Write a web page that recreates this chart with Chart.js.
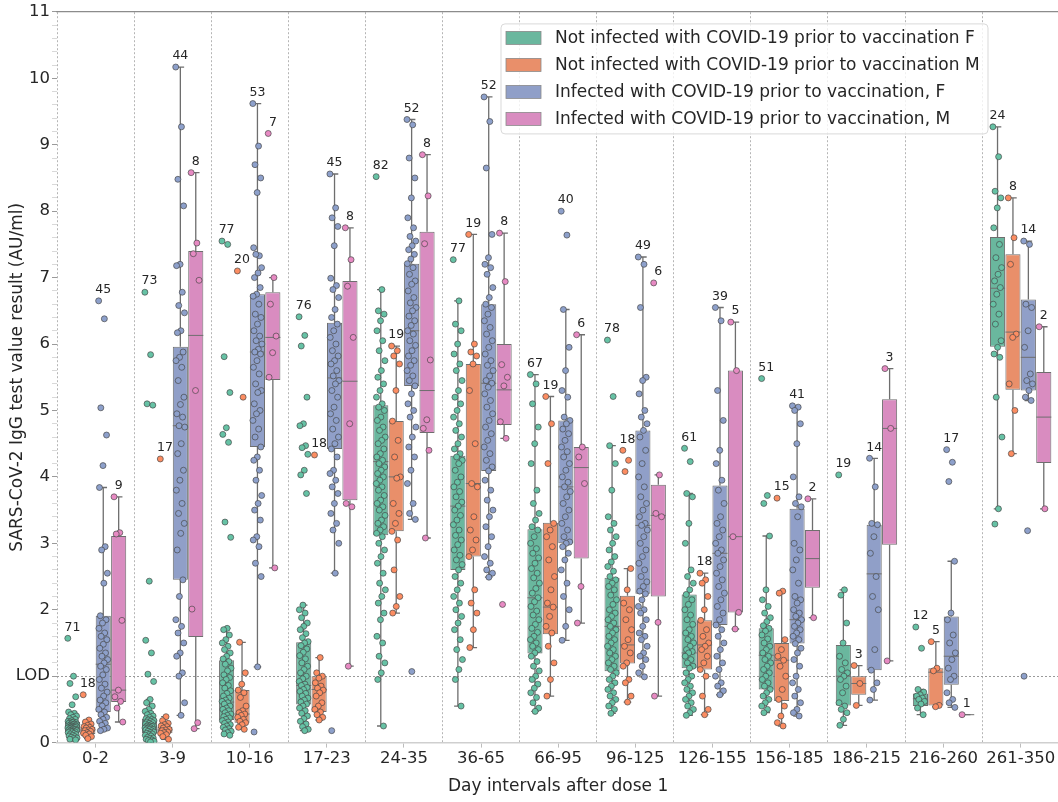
<!DOCTYPE html>
<html>
<head>
<meta charset="utf-8">
<script src="https://cdn.jsdelivr.net/npm/chart.js@4.4.1/dist/chart.umd.min.js"></script>
<style>
html,body{margin:0;padding:0;overflow:hidden;background:#fff;}
#wrap{position:absolute;left:0;top:0;width:1064px;height:802px;}
</style>
</head>
<body>
<div id="wrap"><canvas id="c" width="1064" height="802"></canvas></div>
<script>
// ---------------- DATA ----------------
const groups = ['0-2','3-9','10-16','17-23','24-35','36-65','66-95','96-125','126-155','156-185','186-215','216-260','261-350'];
const seriesNames = [
  'Not infected with COVID-19 prior to vaccination F',
  'Not infected with COVID-19 prior to vaccination M',
  'Infected with COVID-19 prior to vaccination, F',
  'Infected with COVID-19 prior to vaccination, M'
];
const yTickLabels = {1: 'LOD'};

// box statistics per group: [lower whisker, Q1, median, Q3, upper whisker]
const boxNotInfF = [[0.04,0.16,0.24,0.31,0.46],[0.01,0.14,0.24,0.36,0.65],[0.11,0.34,0.61,1.24,1.72],[0.18,0.575,0.86,1.51,2.07],[0.25,3.12,4.23,5.08,6.82],[0.55,2.6,3.56,4.32,6.65],[0.47,1.34,2.18,3.21,5.54],[0.44,1.075,1.75,2.48,4.47],[0.41,1.12,1.35,2.23,3.75],[0.45,0.8,1.315,1.72,3.11],[0.26,0.56,1.0,1.47,2.3],[0.42,0.55,0.66,0.74,0.8],[3.52,5.96,6.84,7.61,9.27]];
const boxNotInfM = [[0.06,0.13,0.19,0.24,0.34],[0.05,0.14,0.19,0.24,0.39],[0.2,0.3,0.43,0.79,1.51],[0.34,0.46,0.8,1.0,1.28],[1.95,3.18,4.0,4.84,5.97],[1.43,2.8,3.9,5.7,7.65],[0.7,1.63,2.04,3.31,5.21],[0.61,1.19,1.47,2.21,2.62],[0.42,1.1,1.47,1.84,2.55],[0.25,0.625,1.24,1.5,2.28],[0.56,0.72,0.89,1.0,1.16],[0.54,0.56,1.06,1.12,1.52],[4.35,5.31,6.18,7.35,8.2]];
const boxInfF = [[0.18,0.46,1.18,1.91,3.84],[0.41,2.45,4.77,5.96,10.17],[1.14,4.45,5.88,6.75,9.62],[2.55,4.42,5.49,6.32,8.56],[3.36,5.37,6.2,7.21,9.38],[2.49,4.09,5.41,6.6,9.72],[1.54,3.0,3.85,4.85,6.52],[0.99,2.24,3.27,4.7,7.31],[0.72,1.77,2.85,3.87,6.55],[0.4,1.49,1.85,3.52,5.07],[0.64,1.09,2.54,3.28,4.28],[0.53,0.87,1.3,1.9,2.73],[5.15,5.3,5.8,6.67,7.55]];
const boxInfM = [[0.31,0.61,0.79,3.11,3.7],[0.21,1.59,6.13,7.4,8.58],[2.63,5.46,6.1,6.78,7.0],[1.15,3.65,5.44,6.95,7.75],[3.08,4.66,5.3,7.69,8.85],[4.58,4.78,5.31,6.0,7.67],[1.8,2.77,4.14,4.45,6.14],[0.7,2.2,3.42,3.88,4.03],[1.71,1.96,3.1,5.6,6.33],[1.88,2.33,2.77,3.2,3.67],[1.23,2.98,4.73,5.17,5.63],[0.42,0.42,0.42,0.42,0.42],[3.52,4.21,4.9,5.58,6.26]];

// sample sizes shown above each box
const nNotInfF = [71,73,77,76,82,77,67,78,61,51,19,12,24];
const nNotInfM = [18,17,20,18,19,19,19,18,18,15,3,5,8];
const nInfF = [45,44,53,45,52,52,40,49,39,41,14,17,14];
const nInfM = [9,8,7,8,8,8,6,6,5,2,3,1,2];

// individual test values (read from the strip points)
const ptsNotInfF = [
 [1.57,1.0,0.89,0.69,0.57,0.46,0.44,0.42,0.40,0.38,0.36,0.35,0.33,0.32,0.31,0.31,0.30,0.30,0.29,0.28,0.28,0.27,0.27,0.26,0.26,0.25,0.25,0.24,0.24,0.24,0.23,0.23,0.23,0.22,0.22,0.21,0.21,0.20,0.20,0.19,0.19,0.18,0.18,0.17,0.17,0.16,0.16,0.15,0.14,0.13,0.12,0.11,0.10,0.09,0.08,0.07,0.06,0.05,0.04],
 [6.78,5.84,5.1,5.08,2.43,1.54,1.35,1.03,0.92,0.65,0.6,0.55,0.5,0.47,0.44,0.42,0.4,0.38,0.36,0.35,0.34,0.33,0.32,0.31,0.3,0.29,0.28,0.27,0.26,0.25,0.25,0.24,0.24,0.23,0.22,0.22,0.21,0.2,0.2,0.19,0.18,0.17,0.16,0.15,0.14,0.13,0.12,0.11,0.1,0.08,0.07,0.06,0.05,0.04,0.03,0.02,0.01],
 [7.55,7.5,5.81,5.27,4.74,4.64,4.52,3.32,3.09,1.72,1.7,1.62,1.55,1.5,1.45,1.4,1.35,1.3,1.26,1.22,1.18,1.12,1.08,1.02,0.98,0.95,0.9,0.86,0.82,0.78,0.74,0.7,0.67,0.64,0.62,0.6,0.58,0.55,0.52,0.5,0.48,0.45,0.43,0.41,0.39,0.37,0.35,0.33,0.31,0.29,0.27,0.25,0.23,0.21,0.19,0.17,0.15,0.13,0.11],
 [6.41,6.13,5.97,5.2,4.8,4.77,4.47,4.44,4.34,4.1,4.03,3.75,2.07,2.0,1.95,1.88,1.8,1.75,1.7,1.64,1.58,1.52,1.5,1.46,1.41,1.36,1.31,1.26,1.2,1.15,1.1,1.05,1.0,0.96,0.92,0.88,0.86,0.83,0.8,0.77,0.74,0.7,0.67,0.64,0.61,0.58,0.55,0.52,0.48,0.44,0.4,0.36,0.32,0.28,0.24,0.2,0.18],
 [8.52,6.82,6.5,6.45,6.35,6.2,6.05,5.9,5.75,5.6,5.5,5.4,5.3,5.2,5.1,5.05,5.0,4.9,4.85,4.75,4.7,4.6,4.55,4.5,4.42,4.35,4.3,4.25,4.2,4.15,4.1,4.05,4.0,3.95,3.9,3.85,3.8,3.72,3.65,3.6,3.55,3.5,3.42,3.35,3.3,3.25,3.2,3.15,3.1,3.0,2.9,2.8,2.7,2.55,2.4,2.3,2.2,2.1,1.95,1.85,1.6,1.5,1.3,1.2,1.05,0.95,0.25],
 [7.27,6.65,6.3,6.2,6.0,5.85,5.7,5.6,5.45,5.3,5.2,5.1,5.0,4.9,4.8,4.7,4.6,4.5,4.42,4.35,4.3,4.25,4.2,4.1,4.0,3.92,3.85,3.78,3.7,3.62,3.56,3.5,3.42,3.35,3.28,3.2,3.12,3.05,2.98,2.9,2.82,2.75,2.68,2.6,2.5,2.4,2.3,2.2,2.1,2.0,1.9,1.8,1.7,1.55,1.4,1.25,1.1,0.95,0.55],
 [5.54,5.4,5.1,4.75,4.5,4.2,3.8,3.6,3.45,3.35,3.25,3.2,3.1,3.0,2.92,2.85,2.78,2.7,2.62,2.55,2.48,2.4,2.32,2.25,2.18,2.12,2.05,1.98,1.92,1.85,1.78,1.72,1.66,1.6,1.55,1.5,1.45,1.4,1.35,1.3,1.22,1.15,1.08,1.0,0.95,0.88,0.82,0.75,0.68,0.6,0.52,0.47],
 [6.06,5.21,4.47,4.2,3.8,3.4,3.3,3.2,3.1,3.0,2.9,2.8,2.72,2.65,2.58,2.5,2.45,2.4,2.35,2.3,2.22,2.15,2.08,2.0,1.95,1.9,1.85,1.8,1.75,1.7,1.65,1.6,1.55,1.5,1.45,1.4,1.35,1.3,1.25,1.2,1.15,1.1,1.05,1.0,0.95,0.9,0.85,0.8,0.75,0.7,0.65,0.6,0.55,0.5,0.44],
 [4.43,4.23,3.75,3.7,3.3,3.0,2.6,2.5,2.4,2.3,2.23,2.15,2.08,2.0,1.92,1.85,1.78,1.7,1.65,1.6,1.55,1.5,1.45,1.4,1.37,1.35,1.3,1.25,1.2,1.15,1.12,1.05,1.0,0.95,0.9,0.85,0.8,0.75,0.7,0.65,0.6,0.55,0.5,0.45,0.41],
 [5.48,3.72,3.6,3.11,2.3,2.15,2.05,1.95,1.88,1.82,1.76,1.72,1.68,1.62,1.56,1.5,1.45,1.4,1.35,1.3,1.25,1.2,1.15,1.1,1.05,1.0,0.95,0.9,0.85,0.8,0.75,0.7,0.65,0.6,0.55,0.5,0.45],
 [4.03,2.3,2.22,1.8,1.5,1.3,1.2,1.1,1.05,1.0,0.95,0.85,0.75,0.6,0.55,0.5,0.45,0.35,0.26],
 [1.74,1.42,0.8,0.76,0.72,0.7,0.67,0.65,0.62,0.58,0.52,0.42],
 [9.27,8.82,8.3,8.2,8.05,7.75,7.5,7.3,7.15,7.05,6.95,6.85,6.75,6.6,6.45,6.3,6.05,5.95,5.85,5.8,5.2,4.6,3.52,3.29]
];
const ptsNotInfM = [
 [0.72,0.34,0.31,0.28,0.26,0.24,0.23,0.22,0.2,0.19,0.18,0.17,0.15,0.14,0.13,0.11,0.09,0.06],
 [4.27,0.39,0.33,0.29,0.27,0.25,0.24,0.22,0.2,0.19,0.18,0.16,0.15,0.14,0.12,0.09,0.05],
 [7.1,5.2,1.51,1.05,0.88,0.79,0.75,0.68,0.55,0.48,0.45,0.43,0.41,0.38,0.35,0.32,0.3,0.27,0.23,0.2],
 [4.33,1.28,1.05,1.0,0.97,0.9,0.85,0.82,0.79,0.75,0.7,0.6,0.55,0.5,0.46,0.42,0.38,0.34],
 [5.97,5.9,5.82,5.7,5.3,4.84,4.55,4.3,4.0,3.98,3.6,3.45,3.3,3.18,3.05,2.6,2.2,2.05,1.95],
 [7.65,6.0,5.88,5.82,5.7,5.3,4.5,3.9,3.85,3.4,3.2,3.05,2.9,2.8,2.3,2.1,1.95,1.7,1.43],
 [5.21,4.8,4.2,3.3,3.2,3.1,2.95,2.75,2.5,2.3,2.1,2.04,1.9,1.75,1.65,1.45,1.2,0.95,0.7],
 [4.4,4.25,4.08,2.62,2.3,2.1,2.0,1.85,1.7,1.55,1.45,1.35,1.2,1.15,0.95,0.9,0.7,0.61],
 [2.55,2.45,2.4,2.2,2.0,1.84,1.7,1.6,1.5,1.45,1.4,1.3,1.2,1.1,1.0,0.7,0.5,0.42],
 [3.68,2.28,2.25,1.55,1.4,1.3,1.24,1.15,1.0,0.8,0.65,0.55,0.4,0.3,0.25],
 [1.16,0.89,0.56],
 [1.52,1.12,1.08,0.56,0.54],
 [8.2,7.6,7.2,6.15,6.1,5.4,5.0,4.35]
];
const ptsInfF = [
 [6.65,6.38,5.04,4.63,4.17,3.84,2.95,2.9,2.55,2.4,1.91,1.85,1.8,1.72,1.65,1.6,1.55,1.48,1.42,1.35,1.3,1.25,1.2,1.15,1.1,1.02,0.95,0.88,0.82,0.76,0.7,0.64,0.6,0.55,0.5,0.46,0.42,0.38,0.35,0.32,0.29,0.26,0.22,0.2,0.18],
 [10.17,9.27,8.48,8.08,7.2,7.18,6.78,6.58,6.47,6.2,6.17,5.88,5.8,5.75,5.65,5.45,5.2,5.09,4.95,4.9,4.77,4.75,4.5,4.35,4.1,3.95,3.8,3.6,3.45,3.3,3.15,2.9,2.45,2.2,1.85,1.75,1.65,1.5,1.35,1.3,1.05,1.0,0.6,0.41],
 [9.62,8.98,8.7,8.5,8.28,7.45,7.33,7.35,7.15,7.07,7.0,6.85,6.75,6.72,6.6,6.45,6.4,6.3,6.2,6.12,6.05,6.0,5.92,5.88,5.85,5.75,5.65,5.55,5.4,5.3,5.27,5.1,5.0,4.95,4.85,4.72,4.6,4.45,4.3,4.25,4.1,3.95,3.72,3.6,3.5,3.35,3.1,3.05,2.95,2.7,2.5,1.14,0.16],
 [8.56,8.05,7.9,7.77,7.48,6.99,6.88,6.82,6.7,6.52,6.4,6.3,6.2,6.1,6.0,5.9,5.82,5.75,5.7,5.6,5.52,5.45,5.4,5.3,5.2,5.05,4.95,4.85,4.72,4.6,4.5,4.42,4.3,4.1,4.05,3.95,3.85,3.75,3.6,3.45,3.3,3.2,3.0,2.55,0.18],
 [9.38,9.3,8.8,8.5,8.2,7.9,7.75,7.62,7.55,7.48,7.42,7.35,7.28,7.21,7.15,7.05,6.95,6.9,6.8,6.7,6.62,6.55,6.5,6.42,6.35,6.28,6.2,6.15,6.05,5.98,5.9,5.82,5.75,5.68,5.6,5.52,5.45,5.37,5.25,5.1,5.0,4.9,4.75,4.6,4.45,4.3,4.1,3.9,3.6,3.45,3.36,1.07],
 [9.72,9.35,8.65,7.65,7.3,7.2,7.15,7.05,6.85,6.7,6.6,6.55,6.45,6.35,6.25,6.15,6.05,5.95,5.85,5.75,5.68,5.6,5.52,5.45,5.41,5.35,5.25,5.15,5.05,4.95,4.85,4.75,4.65,4.55,4.45,4.35,4.25,4.15,4.09,3.95,3.8,3.65,3.5,3.4,3.25,3.1,2.95,2.8,2.7,2.6,2.55,2.49],
 [8.0,7.64,6.52,5.95,5.6,5.3,5.2,4.9,4.85,4.8,4.72,4.65,4.55,4.45,4.38,4.3,4.2,4.1,4.0,3.92,3.85,3.78,3.7,3.6,3.5,3.4,3.3,3.2,3.1,3.02,3.0,2.95,2.85,2.75,2.6,2.4,2.2,2.0,1.75,1.54],
 [7.31,7.2,6.55,5.5,5.45,5.25,5.0,4.9,4.8,4.7,4.6,4.4,4.2,4.0,3.85,3.7,3.6,3.5,3.4,3.3,3.27,3.2,3.1,3.0,2.9,2.8,2.7,2.6,2.5,2.42,2.35,2.28,2.24,2.15,2.05,2.0,1.95,1.85,1.75,1.65,1.6,1.55,1.45,1.35,1.3,1.25,1.15,1.05,0.99],
 [6.55,6.35,5.3,4.85,4.4,4.2,3.95,3.8,3.6,3.4,3.3,3.2,3.1,3.0,2.9,2.85,2.75,2.65,2.55,2.45,2.35,2.25,2.15,2.05,1.95,1.85,1.77,1.7,1.6,1.5,1.4,1.3,1.2,1.1,1.0,0.9,0.85,0.78,0.72],
 [5.07,5.05,5.0,4.8,4.5,4.0,3.7,3.6,3.55,3.4,3.0,2.9,2.75,2.6,2.4,2.2,2.15,2.1,2.0,1.95,1.9,1.85,1.8,1.75,1.7,1.65,1.6,1.55,1.49,1.42,1.35,1.25,1.15,1.0,0.9,0.8,0.7,0.6,0.5,0.45,0.4],
 [4.28,3.85,3.3,3.28,3.1,2.85,2.5,2.2,2.0,1.4,1.09,0.9,0.8,0.64],
 [4.41,4.22,3.93,2.73,1.95,1.85,1.62,1.5,1.35,1.25,1.12,1.0,0.95,0.75,0.65,0.6,0.53],
 [7.55,7.5,6.6,6.55,6.2,5.95,5.55,5.45,5.4,5.3,5.2,5.15,3.19,1.0]
];
const ptsInfM = [
 [3.7,3.16,3.14,1.84,0.79,0.69,0.62,0.52,0.31],
 [8.58,7.52,7.36,6.96,5.3,2.01,0.3,0.21],
 [9.17,7.0,6.6,6.12,5.87,5.5,2.63],
 [7.75,7.27,6.87,6.1,4.8,3.6,3.55,1.15],
 [8.85,8.23,7.51,5.76,4.86,4.73,4.4,3.08],
 [7.67,6.94,5.69,5.5,5.37,4.83,4.58,2.08],
 [6.14,4.45,4.3,3.9,2.35,1.8],
 [6.92,4.03,3.45,3.4,1.81,0.7],
 [6.33,5.6,3.1,1.96,1.71],
 [3.67,1.88],
 [5.63,4.73,1.23],
 [0.42],
 [6.26,3.52]
];

// ---------------- STYLE ----------------
const boxColors = ['#6ab79e', '#e98f6a', '#909fc8', '#d98cc0'];
const pointColors = ['#66c2a5', '#fc8d62', '#8da0cb', '#e78ac3'];
const edgeGray = '#6e6e6e';
const FONT = 'DejaVu Sans';

const allBoxes = [boxNotInfF, boxNotInfM, boxInfF, boxInfM];
const allPts = [ptsNotInfF, ptsNotInfM, ptsInfF, ptsInfM];
const allN = [nNotInfF, nNotInfM, nInfF, nInfM];

const dodge = k => (k - 1.5) * 0.2;             // box offset within a group (group units)
const jitter = j => (((j * 0.6180339887) % 1) - 0.5) * 0.12;

const datasets = [];
for (let k = 0; k < 4; k++) {
  datasets.push({
    type: 'bar',
    label: seriesNames[k],
    data: allBoxes[k].map((b, i) => ({x: i + 0.5, y: [b[1], b[3]]})),
    backgroundColor: boxColors[k],
    borderColor: edgeGray,
    borderWidth: 1,
    borderSkipped: false,
    xAxisID: 'x', yAxisID: 'y',
    barPercentage: 0.98,
    categoryPercentage: 0.8,
    order: 2
  });
}
for (let k = 0; k < 4; k++) {
  const pts = [];
  allPts[k].forEach((vals, i) => {
    vals.forEach((v, j) => pts.push({x: i + 0.5 + dodge(k) + jitter(j), y: v}));
  });
  datasets.push({
    type: 'scatter',
    label: 'pts' + k,
    data: pts,
    backgroundColor: pointColors[k],
    borderColor: 'rgba(70,70,70,0.85)',
    borderWidth: 0.8,
    pointRadius: 3,
    xAxisID: 'x', yAxisID: 'y',
    order: 1
  });
}

// whiskers, caps, medians, counts, legend
const boxPlotPlugin = {
  id: 'boxparts',
  afterDatasetDraw(chart, args) {
    const meta = args.meta;
    if (meta.type !== 'bar') return;
    const k = args.index;
    const ys = chart.scales.y;
    const ctx = chart.ctx;
    ctx.save();
    ctx.strokeStyle = edgeGray;
    meta.data.forEach((bar, i) => {
      const [lo, q1, med, q3, hi] = allBoxes[k][i];
      const p = bar.getProps(['x', 'width'], true);
      const x = p.x, w = p.width;
      const yLo = ys.getPixelForValue(lo), yQ1 = ys.getPixelForValue(q1);
      const yMed = ys.getPixelForValue(med), yQ3 = ys.getPixelForValue(q3), yHi = ys.getPixelForValue(hi);
      ctx.lineWidth = 1.3;
      ctx.beginPath();
      ctx.moveTo(x, yQ1); ctx.lineTo(x, yLo);
      ctx.moveTo(x, yQ3); ctx.lineTo(x, yHi);
      ctx.moveTo(x - w / 4, yLo); ctx.lineTo(x + w / 4, yLo);
      ctx.moveTo(x - w / 4, yHi); ctx.lineTo(x + w / 4, yHi);
      ctx.stroke();
      ctx.lineWidth = 1;
      ctx.beginPath();
      ctx.moveTo(x - w / 2, yMed); ctx.lineTo(x + w / 2, yMed);
      ctx.stroke();
    });
    ctx.restore();
  },
  afterDatasetsDraw(chart) {
    const ctx = chart.ctx;
    const xs = chart.scales.x, ys = chart.scales.y;
    ctx.save();
    ctx.font = '12.5px "' + FONT + '"';
    ctx.fillStyle = '#262626';
    ctx.textAlign = 'center';
    ctx.textBaseline = 'middle';
    for (let k = 0; k < 4; k++) {
      groups.forEach((g, i) => {
        const top = Math.max(allBoxes[k][i][4], ...allPts[k][i]);
        const x = xs.getPixelForValue(i + 0.5 + dodge(k));
        const y = ys.getPixelForValue(top) - 11;
        ctx.fillText(String(allN[k][i]), x, y);
      });
    }
    ctx.restore();
  },
  afterDraw(chart) {
    const ctx = chart.ctx;
    const ca = chart.chartArea;
    const bx = ca.left + 444, by = ca.top + 12, bw = 487, bh = 110;
    ctx.save();
    ctx.beginPath();
    if (ctx.roundRect) ctx.roundRect(bx, by, bw, bh, 4); else ctx.rect(bx, by, bw, bh);
    ctx.fillStyle = 'rgba(255,255,255,0.8)';
    ctx.fill();
    ctx.strokeStyle = '#d9d9d9';
    ctx.lineWidth = 1;
    ctx.stroke();
    ctx.font = '17px "' + FONT + '"';
    ctx.textBaseline = 'middle';
    ctx.textAlign = 'left';
    seriesNames.forEach((name, k) => {
      const cy = by + 14 + k * 27;
      ctx.fillStyle = boxColors[k];
      ctx.fillRect(bx + 5, cy - 6.5, 35, 13);
      ctx.strokeStyle = '#8a8a8a';
      ctx.lineWidth = 0.8;
      ctx.strokeRect(bx + 5, cy - 6.5, 35, 13);
      ctx.fillStyle = '#262626';
      ctx.fillText(name, bx + 54, cy + 1);
    });
    ctx.restore();
  }
};

const isInt = v => Math.abs(v - Math.round(v)) < 1e-6;

new Chart(document.getElementById('c'), {
  data: { datasets },
  options: {
    responsive: false,
    animation: false,
    devicePixelRatio: 1,
    layout: { padding: { top: 10, right: 3, left: 0, bottom: 0 } },
    plugins: { legend: { display: false }, tooltip: { enabled: false } },
    scales: {
      x: {
        type: 'linear',
        position: 'bottom',
        min: 0, max: 13,
        offset: false,
        afterBuildTicks: s => { s.ticks = groups.map((g, i) => ({ value: i + 0.5 })); },
        grid: { display: true, drawOnChartArea: false, offset: false, tickLength: 5, color: '#bdbdbd', tickColor: '#bdbdbd' },
        border: { display: true, color: '#cfcfcf', width: 1.5 },
        ticks: { font: { family: FONT, size: 16.5 }, color: '#262626', padding: 1, maxRotation: 0, autoSkip: false,
                 callback: (v, i) => groups[i] },
        title: { display: true, text: 'Day intervals after dose 1', font: { family: FONT, size: 17 }, color: '#262626', padding: { top: 0, bottom: 5 } },
        afterFit: s => { s.height = 59.4; }
      },
      x2: {
        type: 'linear',
        position: 'top',
        min: 0, max: 13,
        offset: false,
        ticks: { display: false, stepSize: 1 },
        grid: { display: true, drawTicks: false, offset: false, color: '#b5b5b5', lineWidth: 1 },
        border: { display: true, color: '#8c8c8c', width: 1.2, dash: [2, 2] },
        afterFit: s => { s.height = 0; }
      },
      y: {
        type: 'linear',
        min: 0, max: 11,
        ticks: {
          stepSize: 0.2,
          autoSkip: false,
          font: { family: FONT, size: 16.5 },
          color: '#262626',
          padding: 2,
          callback: v => isInt(v) ? (yTickLabels[Math.round(v)] || String(Math.round(v))) : ''
        },
        grid: {
          display: true,
          tickLength: 5,
          color: c => (c.tick && Math.abs(c.tick.value - 1) < 1e-6) ? '#9a9a9a' : 'rgba(0,0,0,0)',
          tickColor: c => (c.tick && isInt(c.tick.value)) ? '#9a9a9a' : '#cfcfcf',
          tickWidth: c => (c.tick && isInt(c.tick.value)) ? 1 : 0.8
        },
        border: { display: false, dash: [2, 2] },
        title: { display: true, text: 'SARS-CoV-2 IgG test value result (AU/ml)', font: { family: FONT, size: 17 }, color: '#262626', padding: { top: 7, bottom: 0 } },
        afterFit: s => { s.width = 57; }
      }
    }
  },
  plugins: [boxPlotPlugin]
});
</script>
</body>
</html>
